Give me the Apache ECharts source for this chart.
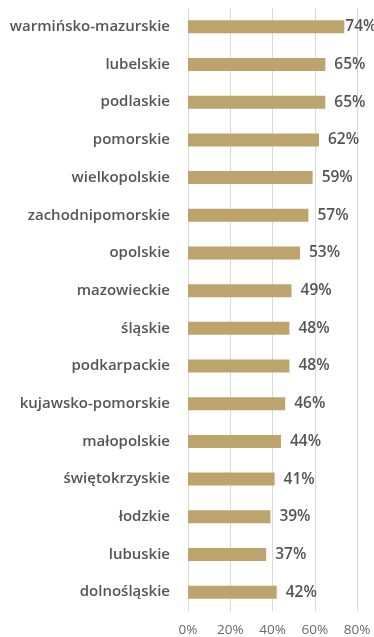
<!DOCTYPE html>
<html><head><meta charset="utf-8">
<script src="https://cdn.jsdelivr.net/npm/echarts@6/dist/echarts.min.js"></script>
<style>html,body{margin:0;padding:0;background:#fff}#c{width:374px;height:637px}</style>
</head><body><div id="c"></div>
<script>
const categories = ["warmińsko-mazurskie","lubelskie","podlaskie","pomorskie","wielkopolskie","zachodnipomorskie","opolskie","mazowieckie","śląskie","podkarpackie","kujawsko-pomorskie","małopolskie","świętokrzyskie","łodzkie","lubuskie","dolnośląskie"];
const values = [74,65,65,62,59,57,53,49,48,48,46,44,41,39,37,42];
const xTicks = [0,20,40,60,80];

const chart = echarts.init(document.getElementById('c'), null, {renderer:'canvas'});
chart.setOption({
  animation:false,
  grid:{left:188, right:17, top:8, bottom:26, containLabel:false},
  xAxis:{type:'value', min:0, max:80, interval:20,
    axisLine:{show:false}, axisTick:{show:false},
    splitLine:{show:true, lineStyle:{color:'#d9d9d9', width:1}},
    axisLabel:{formatter:v=>v+'%', color:'#6a6a6a', fontFamily:'Open Sans', fontSize:13.5, margin:12}
  },
  yAxis:{type:'category', inverse:true, data:categories,
    axisLine:{show:false}, axisTick:{show:false},
    axisLabel:{color:'#555', fontFamily:'Open Sans', fontWeight:600, fontSize:15, margin:18}
  },
  series:[{type:'bar', barWidth:13,
    data:values.map((v,i)=>i===0?{value:v,label:{distance:1}}:v),
    itemStyle:{color:'#BDA46C'},
    label:{show:true, position:'right', distance:9, formatter:'{c}%', color:'#555', fontFamily:'Open Sans', fontWeight:600, fontSize:15.5}
  }]
});
</script></body></html>
